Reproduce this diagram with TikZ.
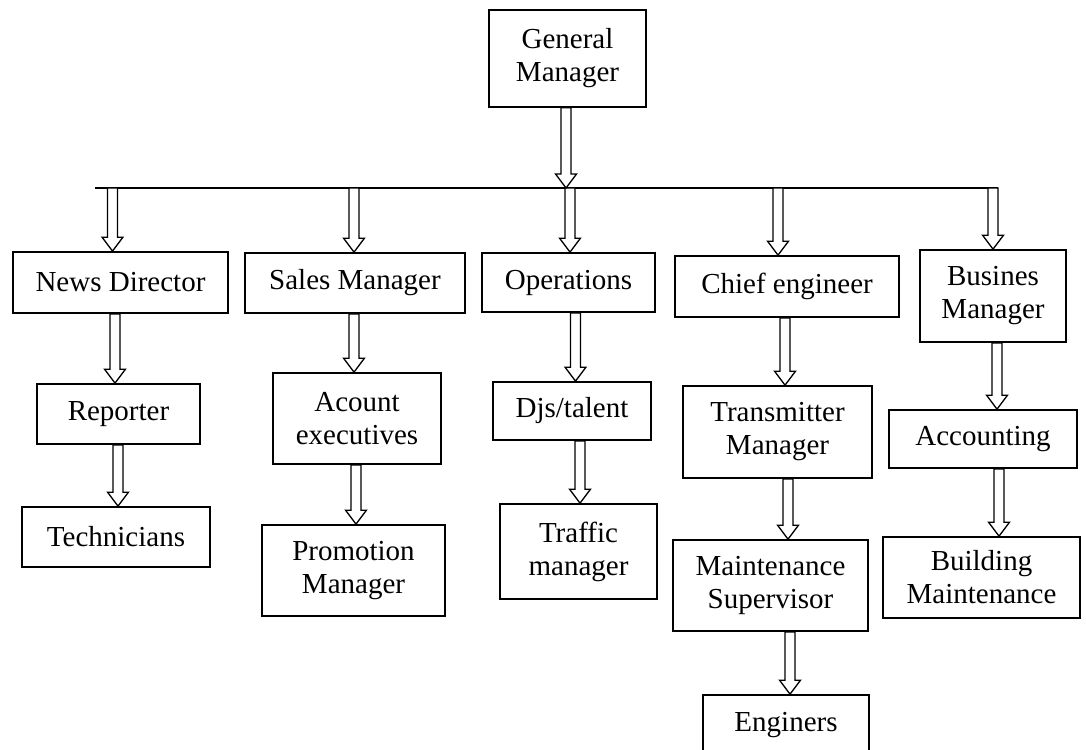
\documentclass[tikz,border=0pt]{standalone}
\usepackage{fontspec}
\setmainfont{Liberation Serif}
\usetikzlibrary{calc}
\tikzset{
  box/.style={draw, line width=1.7pt, align=center, inner sep=0pt, fill=white,
    font=\fontsize{29}{33}\selectfont},
  blockarrow/.style={draw, line width=1.3pt, fill=white, line join=miter,
    to path={let \p1=(\tikztostart), \p2=(\tikztotarget.north) in
      (\x1-5pt,\y1) -- (\x1-5pt,\y2+14pt) -- (\x1-10.5pt,\y2+14pt) -- (\x1,\y2)
      -- (\x1+10.5pt,\y2+14pt) -- (\x1+5pt,\y2+14pt) -- (\x1+5pt,\y1) -- cycle}},
  barline/.style={draw, line width=1.3pt}
}
\begin{document}
\begin{tikzpicture}[x=1pt,y=-1pt]
\useasboundingbox (0,0) rectangle (1086,749);
% boxes
\node[box, minimum width=157pt, minimum height=97pt] (gm) at (567.5,58.5) {General\\Manager};
\node[box, minimum width=215pt, minimum height=61pt] (news) at (120.5,282.5) {News Director};
\node[box, minimum width=220pt, minimum height=60pt] (sales) at (355,283) {Sales Manager};
\node[box, minimum width=173pt, minimum height=59pt] (ops) at (568.5,282.5) {Operations};
\node[box, minimum width=224pt, minimum height=61pt] (chief) at (787,286.5) {Chief engineer};
\node[box, minimum width=146pt, minimum height=92pt] (bus) at (993,296) {Busines\\Manager};
\node[box, minimum width=163pt, minimum height=60pt] (rep) at (118.5,414) {Reporter};
\node[box, minimum width=168pt, minimum height=91pt] (acex) at (357,418.5) {Acount\\executives};
\node[box, minimum width=158pt, minimum height=58pt] (djs) at (572,411) {Djs/talent};
\node[box, minimum width=189pt, minimum height=92pt] (trans) at (777.5,432) {Transmitter\\Manager};
\node[box, minimum width=188pt, minimum height=58pt] (acct) at (983,439) {Accounting};
\node[box, minimum width=188pt, minimum height=60pt] (tech) at (116,537) {Technicians};
\node[box, minimum width=183pt, minimum height=91pt] (promo) at (353.5,570.5) {Promotion\\Manager};
\node[box, minimum width=157pt, minimum height=95pt] (traffic) at (578.5,551.5) {Traffic\\manager};
\node[box, minimum width=195pt, minimum height=91pt] (maint) at (770.5,585.5) {Maintenance\\Supervisor};
\node[box, minimum width=197pt, minimum height=81pt] (build) at (981.5,577.5) {Building\\Maintenance};
\node[box, minimum width=166pt, minimum height=60pt] (eng) at (786,725) {Enginers};
% horizontal bar
\coordinate (barL) at (95,188);
\coordinate (barR) at (998,188);
\draw[barline] (barL) -- (barR);
\coordinate (b1) at (112.5,188);
\coordinate (b2) at (354,188);
\coordinate (b3) at (570,188);
\coordinate (b4) at (778,188);
\coordinate (b5) at (993,188);
% arrows from bar
\draw[blockarrow] (b1) to (news);
\draw[blockarrow] (b2) to (sales);
\draw[blockarrow] (b3) to (ops);
\draw[blockarrow] (b4) to (chief);
\draw[blockarrow] (b5) to (bus);
% GM arrow
\coordinate (gmtip) at (566,188);
\draw[draw, line width=1.3pt, fill=white]
  let \p1=([xshift=-1.5pt]gm.south), \p2=(gmtip) in
  (\x1-5pt,\y1) -- (\x1-5pt,\y2+14pt) -- (\x1-10.5pt,\y2+14pt) -- (\x1,\y2)
  -- (\x1+10.5pt,\y2+14pt) -- (\x1+5pt,\y2+14pt) -- (\x1+5pt,\y1) -- cycle;
% lower arrows
\draw[blockarrow] ([xshift=-5.5pt]news.south) to (rep);
\draw[blockarrow] ([xshift=-0.5pt]rep.south) to (tech);
\draw[blockarrow] ([xshift=-1pt]sales.south) to (acex);
\draw[blockarrow] ([xshift=-1pt]acex.south) to (promo);
\draw[blockarrow] ([xshift=7pt]ops.south) to (djs);
\draw[blockarrow] ([xshift=8pt]djs.south) to (traffic);
\draw[blockarrow] ([xshift=-2pt]chief.south) to (trans);
\draw[blockarrow] ([xshift=10.5pt]trans.south) to (maint);
\draw[blockarrow] ([xshift=19.5pt]maint.south) to (eng);
\draw[blockarrow] ([xshift=4pt]bus.south) to (acct);
\draw[blockarrow] ([xshift=16pt]acct.south) to (build);
\end{tikzpicture}
\end{document}
